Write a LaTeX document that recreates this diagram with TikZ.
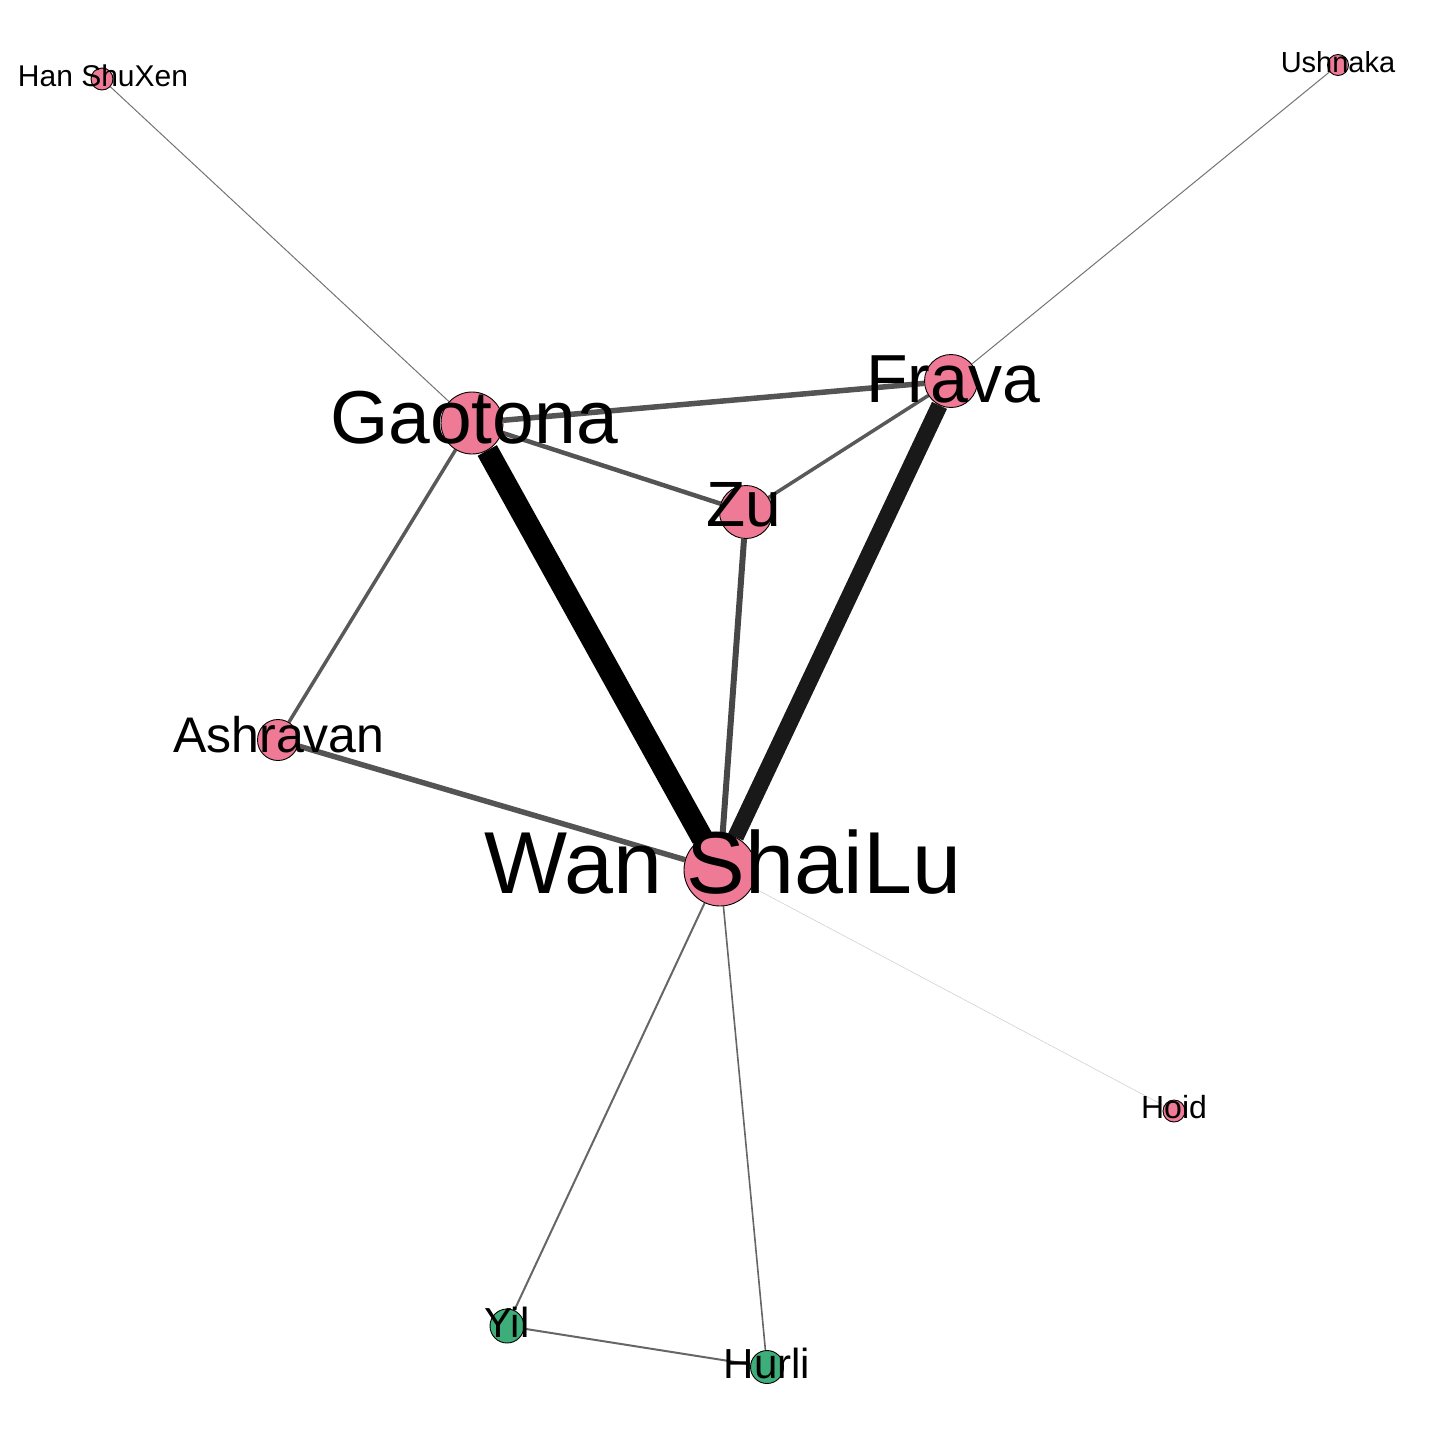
\documentclass[tikz,border=0pt]{standalone}
\usepackage{fontspec}
\setmainfont{Liberation Sans}
\usetikzlibrary{backgrounds}

\definecolor{rosa}{HTML}{EE7A95}
\definecolor{jade}{HTML}{3DAE7A}

\begin{document}
\begin{tikzpicture}[
                x=1pt,y=-1pt,
                every node/.append style={inner sep=0pt},
                person/.style={circle,draw=black,line width=0.9pt,fill=rosa},
                guard/.style={person,fill=jade},
                tag/.style={anchor=base,text=black},
                tie/.style={draw=#1,line cap=butt}
            ]
                \useasboundingbox (0,0) rectangle (1440,1440);
                % people
                \node[person,minimum size=72] (wan)  at (720,870)  {};
                \node[person,minimum size=62] (gao)  at (472,423)  {};
                \node[person,minimum size=53] (fra)  at (951,381)  {};
                \node[person,minimum size=53] (zu)   at (746,512)  {};
                \node[person,minimum size=41] (ash)  at (278,740)  {};
                \node[person,minimum size=22] (han)  at (102,79)   {};
                \node[person,minimum size=21] (ush)  at (1338,65)  {};
                \node[person,minimum size=22] (hoid) at (1174,1111) {};
                \node[guard,minimum size=34]  (yil)  at (507,1326) {};
                \node[guard,minimum size=33]  (hur)  at (767,1367) {};
                % ties
                \begin{scope}[on background layer]
                    \draw[tie=black,line width=22]         (gao) -- (wan);
                    \draw[tie=black!90,line width=16.5]    (fra) -- (wan);
                    \draw[tie=black!72,line width=6]       (zu) -- (wan);
                    \draw[tie=black!67,line width=5.5]     (gao) -- (fra);
                    \draw[tie=black!67,line width=4.5]     (gao) -- (zu);
                    \draw[tie=black!65,line width=3.5]     (fra) -- (zu);
                    \draw[tie=black!65,line width=3.5]     (gao) -- (ash);
                    \draw[tie=black!67,line width=5.5]     (ash) -- (wan);
                    \draw[tie=black!55,line width=1]       (gao) -- (han);
                    \draw[tie=black!55,line width=1]       (fra) -- (ush);
                    \draw[tie=black!18,line width=0.6]     (wan) -- (hoid);
                    \draw[tie=black!60,line width=2]       (wan) -- (yil);
                    \draw[tie=black!60,line width=1.6]     (wan) -- (hur);
                    \draw[tie=black!60,line width=2]       (yil) -- (hur);
                \end{scope}
                % names
                \node[tag,font=\fontsize{88}{88}\selectfont] (wan-l)  at (723,893)  {Wan ShaiLu};
                \node[tag,font=\fontsize{75}{75}\selectfont] (gao-l)  at (474,443)  {Gaotona};
                \node[tag,font=\fontsize{68}{68}\selectfont] (fra-l)  at (953,402)  {Frava};
                \node[tag,font=\fontsize{64}{64}\selectfont] (zu-l)   at (744,526)  {Zu};
                \node[tag,font=\fontsize{50}{50}\selectfont] (ash-l)  at (279,752)  {Ashravan};
                \node[tag,font=\fontsize{30}{30}\selectfont] (han-l)  at (103,86)   {Han ShuXen};
                \node[tag,font=\fontsize{29}{29}\selectfont] (ush-l)  at (1338,72)  {Ushnaka};
                \node[tag,font=\fontsize{32}{32}\selectfont] (hoid-l) at (1174,1118) {Hoid};
                \node[tag,font=\fontsize{42}{42}\selectfont] (yil-l)  at (507,1337) {Yil};
                \node[tag,font=\fontsize{42}{42}\selectfont] (hur-l)  at (767,1378) {Hurli};
            \end{tikzpicture}
\end{document}
